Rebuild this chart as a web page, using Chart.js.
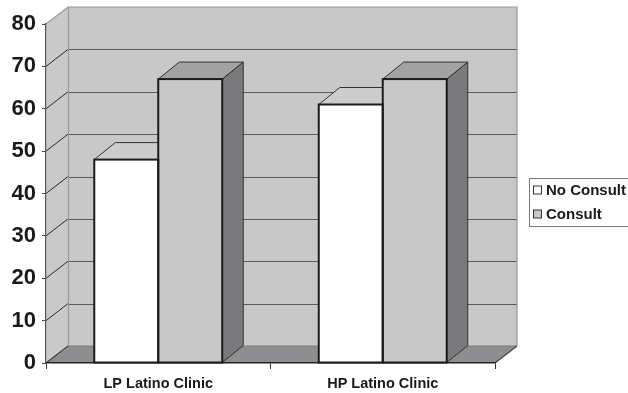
<!DOCTYPE html>
<html>
<head>
<meta charset="utf-8">
<script src="https://cdn.jsdelivr.net/npm/chart.js@4/dist/chart.umd.min.js"></script>
<style>
  html, body { margin: 0; padding: 0; background: #ffffff; }
  #wrap { width: 628px; height: 393px; position: relative; }
</style>
</head>
<body>
<div id="wrap"><canvas id="c"></canvas></div>
<script>
// Clinic groups and the two series (percent)
const categories = ['LP Latino Clinic', 'HP Latino Clinic'];
const noConsult = [48, 61];
const consult = [67, 67];
const seriesNames = ['No Consult', 'Consult'];
const yMin = 0, yMax = 80, yStep = 10;

const FONT = "'Liberation Sans', Arial, Helvetica, sans-serif";
const WALL_DEPTH = { x: 22, y: 17 };
const BAR_DEPTH = { x: 21, y: 17 };

function poly(ctx, pts) {
  ctx.beginPath();
  ctx.moveTo(pts[0][0], pts[0][1]);
  for (let i = 1; i < pts.length; i++) ctx.lineTo(pts[i][0], pts[i][1]);
  ctx.closePath();
}

// Draws the 3D box (side wall, back wall, floor) plus bar tops/sides, outlines and legend
const box3d = {
  id: 'box3d',
  beforeDraw(chart) {
    const { ctx, chartArea: a, scales } = chart;
    const ys = scales.y;
    const dx = WALL_DEPTH.x, dy = WALL_DEPTH.y;
    const L = a.left, R = a.right, T = a.top, B = a.bottom;
    ctx.save();
    // back wall
    ctx.fillStyle = '#c8c8c9';
    ctx.fillRect(L + dx, T - dy, R - L, B - T);
    // side wall
    ctx.fillStyle = '#c9c9ca';
    poly(ctx, [[L, T], [L + dx, T - dy], [L + dx, B - dy], [L, B]]);
    ctx.fill();
    // floor
    ctx.fillStyle = '#8e8e90';
    poly(ctx, [[L, B], [L + dx, B - dy], [R + dx, B - dy], [R, B]]);
    ctx.fill();

    // grid lines on back and side walls
    for (let v = yMin + yStep; v < yMax; v += yStep) {
      const yp = ys.getPixelForValue(v);
      ctx.strokeStyle = '#5a5a5a';
      ctx.lineWidth = 1;
      ctx.beginPath();
      ctx.moveTo(L + dx, Math.round(yp - dy) + 0.5);
      ctx.lineTo(R + dx, Math.round(yp - dy) + 0.5);
      ctx.stroke();
      ctx.strokeStyle = '#2a2a2a';
      ctx.beginPath();
      ctx.moveTo(L, yp);
      ctx.lineTo(L + dx, yp - dy);
      ctx.stroke();
    }
    // wall edges
    ctx.strokeStyle = '#9a9a9a';
    ctx.lineWidth = 1.2;
    ctx.beginPath();
    ctx.moveTo(L, T);
    ctx.lineTo(L + dx, T - dy);
    ctx.lineTo(R + dx, T - dy);
    ctx.lineTo(R + dx, B - dy);
    ctx.moveTo(L + dx + 0.5, T - dy);
    ctx.lineTo(L + dx + 0.5, B - dy);
    ctx.stroke();
    ctx.strokeStyle = '#7a7a7a';
    ctx.beginPath();
    ctx.moveTo(L + dx, B - dy);
    ctx.lineTo(R + dx, B - dy);
    ctx.stroke();
    ctx.strokeStyle = '#444';
    ctx.beginPath();
    ctx.moveTo(L, B);
    ctx.lineTo(L + dx, B - dy);
    ctx.moveTo(R, B);
    ctx.lineTo(R + dx, B - dy);
    ctx.stroke();
    ctx.restore();
  },
  beforeDatasetsDraw(chart) {
    const { ctx } = chart;
    const dx = BAR_DEPTH.x, dy = BAR_DEPTH.y;
    ctx.save();
    ctx.lineWidth = 1;
    ctx.strokeStyle = '#333';
    chart.data.datasets.forEach((ds, i) => {
      const meta = chart.getDatasetMeta(i);
      meta.data.forEach(bar => {
        const p = bar.getProps(['x', 'y', 'base', 'width'], true);
        const l = p.x - p.width / 2, r = p.x + p.width / 2;
        // side face
        ctx.fillStyle = ds.sideColor;
        poly(ctx, [[r, p.y], [r + dx, p.y - dy], [r + dx, p.base - dy], [r, p.base]]);
        ctx.fill();
        ctx.stroke();
        // top face
        ctx.fillStyle = ds.topColor;
        poly(ctx, [[l, p.y], [r, p.y], [r + dx, p.y - dy], [l + dx, p.y - dy]]);
        ctx.fill();
        ctx.stroke();
      });
    });
    ctx.restore();
  },
  afterDatasetsDraw(chart) {
    const { ctx } = chart;
    ctx.save();
    ctx.lineWidth = 2;
    ctx.strokeStyle = '#1c1c1c';
    chart.data.datasets.forEach((ds, i) => {
      chart.getDatasetMeta(i).data.forEach(bar => {
        const p = bar.getProps(['x', 'y', 'base', 'width'], true);
        ctx.strokeRect(p.x - p.width / 2, p.y, p.width, p.base - p.y);
      });
    });
    ctx.restore();
  },
  afterDraw(chart) {
    const { ctx } = chart;
    ctx.save();
    // legend frame
    ctx.fillStyle = '#ffffff';
    ctx.fillRect(529, 178, 99, 49);
    ctx.strokeStyle = '#7a7a7a';
    ctx.lineWidth = 1;
    ctx.strokeRect(529.5, 178.5, 99, 48);
    ctx.font = 'bold 15px ' + FONT;
    ctx.textBaseline = 'middle';
    ctx.textAlign = 'left';
    const rows = [190, 214];
    chart.data.datasets.forEach((ds, i) => {
      const cy = rows[i];
      ctx.fillStyle = ds.backgroundColor;
      ctx.fillRect(533.5, cy - 4, 8, 8);
      ctx.strokeStyle = '#333';
      ctx.strokeRect(533.5, cy - 4, 8, 8);
      ctx.fillStyle = '#1a1a1a';
      ctx.fillText(ds.label, 546, cy + 0.5);
    });
    ctx.restore();
  }
};

new Chart(document.getElementById('c'), {
  type: 'bar',
  data: {
    labels: categories,
    datasets: [
      { label: seriesNames[0], data: noConsult, backgroundColor: '#ffffff',
        topColor: '#cdcdce', sideColor: '#9a9a9b', borderWidth: 0 },
      { label: seriesNames[1], data: consult, backgroundColor: '#c8c8c9',
        topColor: '#a2a2a3', sideColor: '#7a7a7c', borderWidth: 0 }
    ]
  },
  options: {
    responsive: true,
    maintainAspectRatio: false,
    devicePixelRatio: 1,
    animation: false,
    layout: { padding: { top: 24, right: 133, bottom: 0, left: 0 } },
    categoryPercentage: 0.57,
    barPercentage: 1.0,
    plugins: { legend: { display: false }, tooltip: { enabled: false } },
    scales: {
      x: {
        grid: { drawOnChartArea: false, drawTicks: true, tickLength: 6, color: '#333', offset: true },
        border: { display: true, color: '#222', width: 1.5 },
        ticks: { color: '#1a1a1a', padding: 6, font: { family: FONT, size: 14.5, weight: 'bold' } },
        afterFit(s) { s.height = 30; }
      },
      y: {
        min: yMin, max: yMax,
        grid: { drawOnChartArea: false, drawTicks: true, tickLength: 4, color: '#444' },
        border: { display: true, color: '#555', width: 1.2 },
        ticks: { stepSize: yStep, color: '#1a1a1a', padding: 6, font: { family: FONT, size: 22, weight: 'bold' } },
        afterFit(s) { s.width = 46; }
      }
    }
  },
  plugins: [box3d]
});
</script>
</body>
</html>
